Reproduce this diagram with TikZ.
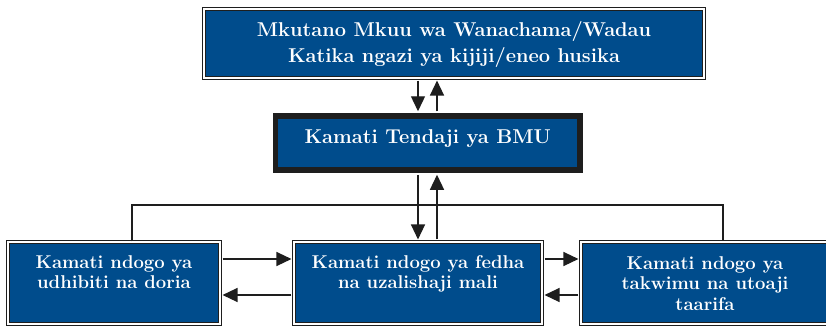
\documentclass[tikz,border=0pt]{standalone}
\usepackage{fontspec}
\usetikzlibrary{arrows.meta}
\definecolor{boxblue}{RGB}{0,76,140}
\definecolor{lineblk}{RGB}{30,30,30}
\begin{document}
\begin{tikzpicture}[x=1pt,y=-1pt,
  dbox/.style={draw=lineblk, double=white, double distance=1.6pt, line width=1.1pt, fill=boxblue, inner sep=0pt},
  tbox/.style={draw=lineblk, line width=5.5pt, fill=boxblue, inner sep=0pt},
  txt/.style={text=white, align=center, inner sep=0pt},
  bigfont/.style={font=\fontsize{20}{26}\selectfont\bfseries},
  smallfont/.style={font=\fontsize{18.5}{20.5}\selectfont\bfseries},
  conn/.style={draw=lineblk, line width=1.3pt},
  arr/.style={conn, -{Triangle[length=15pt,width=14pt]}, shorten >=2pt, shorten <=2pt}]
\useasboundingbox (0,0) rectangle (826,325);
\clip (0,0) rectangle (826,325);
\fill[white] (0,0) rectangle (826,325);
% boxes
\node[dbox, minimum width=500pt, minimum height=69pt] (top) at (454,43.5) {};
\node[tbox, minimum width=304.5pt, minimum height=54pt] (exec) at (427.75,143) {};
\node[dbox, minimum width=212pt, minimum height=82pt] (left) at (114,283) {};
\node[dbox, minimum width=248pt, minimum height=82pt] (fin) at (418,283) {};
\node[dbox, minimum width=248pt, minimum height=82pt] (stat) at (705,283) {};
% texts (anchor=base is the baseline of the last line)
\node[txt, bigfont, anchor=base] (topT) at (454,62) {Mkutano Mkuu wa Wanachama/Wadau\\Katika ngazi ya kijiji/eneo husika};
\node[txt, bigfont, anchor=base] (execT) at (427.75,143) {Kamati Tendaji ya BMU};
\node[txt, smallfont, anchor=base] (leftT) at (114,288.5) {Kamati ndogo ya\\udhibiti na doria};
\node[txt, smallfont, anchor=base] (finT) at (418,288.5) {Kamati ndogo ya fedha\\na uzalishaji mali};
\node[txt, smallfont, anchor=base] (statT) at (705,310) {Kamati ndogo ya\\takwimu na utoaji\\taarifa};
% helper coordinates
\coordinate (d1) at (418,0);
\coordinate (u1) at (437,0);
\coordinate (h1) at (0,259);
\coordinate (h2) at (0,295);
\coordinate (busL) at (132,205);
\coordinate (busR) at (723,205);
% bus line
\draw[conn] (left.north -| busL) -- (busL) -- (busR) -- (stat.north -| busR);
% vertical arrows
\draw[arr] (top.south -| d1) -- (exec.north -| d1);
\draw[arr] (exec.north -| u1) -- (top.south -| u1);
\draw[arr] (exec.south -| d1) -- (fin.north -| d1);
\draw[arr] (fin.north -| u1) -- (exec.south -| u1);
% horizontal arrows
\draw[arr] (left.east |- h1) -- (fin.west |- h1);
\draw[arr] (fin.west |- h2) -- (left.east |- h2);
\draw[arr] (fin.east |- h1) -- (stat.west |- h1);
\draw[arr] (stat.west |- h2) -- (fin.east |- h2);
\end{tikzpicture}
\end{document}
